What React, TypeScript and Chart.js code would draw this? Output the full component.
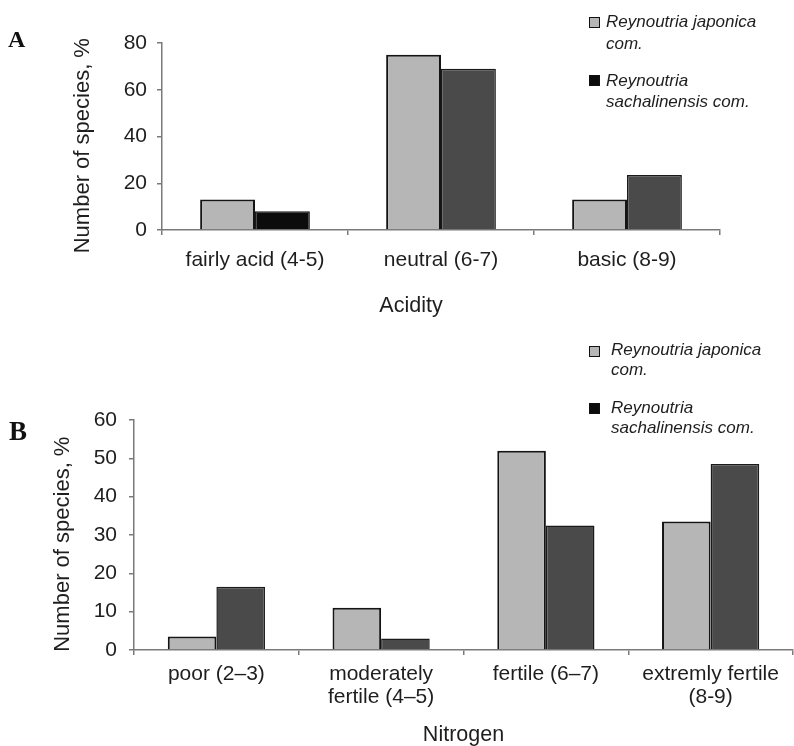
import React, { useEffect, useRef } from "react";
import { Chart, registerables } from "chart.js";

Chart.register(...registerables);

// ---------- data ----------
const seriesNames = ["Reynoutria japonica com.", "Reynoutria sachalinensis com."];

const acidityCategories = ["fairly acid (4-5)", "neutral (6-7)", "basic (8-9)"];
const acidityJaponica = [13, 75, 13];
const aciditySachalinensis = [8, 69, 23.5];
const acidityTicks = [0, 20, 40, 60, 80];

const nitrogenCategories = [
  ["poor (2–3)"],
  ["moderately", "fertile (4–5)"],
  ["fertile (6–7)"],
  ["extremly fertile", "(8-9)"],
];
const nitrogenJaponica = [3.5, 11, 52, 33.5];
const nitrogenSachalinensis = [16.5, 3, 32.5, 48.5];
const nitrogenTicks = [0, 10, 20, 30, 40, 50, 60];

const yTitle = "Number of species, %";

// ---------- styles ----------
const FONT = "'Liberation Sans', Arial, Helvetica, sans-serif";
const LIGHT = "#b6b6b6";
const DARK = "#4a4a4a";
const BLACK = "#0c0c0c";
const AXIS = "#7a7a7a";
const TEXT = "#1e1e1e";

const offsetTitlePlugin = {
  id: "offsetTitle",
  afterDraw(chart: any, _args: any, opts: any) {
    if (!opts || !opts.text) return;
    const { ctx, chartArea } = chart;
    ctx.save();
    ctx.font = `${opts.size}px ${FONT}`;
    ctx.fillStyle = TEXT;
    ctx.textAlign = "center";
    ctx.textBaseline = "middle";
    ctx.fillText(opts.text, (chartArea.left + chartArea.right) / 2 + opts.dx, opts.y);
    ctx.restore();
  },
};

function buildConfig(p: {
  labels: any[];
  japonica: number[];
  sach: number[];
  sachColors: string[];
  ticks: number[];
  padding: { left: number; right: number; top: number; bottom: number };
  yWidth: number;
  yTickPad: number;
  xHeight: number;
  xTickPad: number;
  xTitle: string | null;
  offsetTitle: any;
}) {
  const yMin = p.ticks[0];
  const yMax = p.ticks[p.ticks.length - 1];
  const step = p.ticks[1] - p.ticks[0];
  return {
    type: "bar" as const,
    data: {
      labels: p.labels,
      datasets: [
        {
          label: seriesNames[0],
          data: p.japonica,
          backgroundColor: LIGHT,
          borderColor: "#141414",
          borderWidth: 2,
          categoryPercentage: 0.59,
          barPercentage: 1,
        },
        {
          label: seriesNames[1],
          data: p.sach,
          backgroundColor: p.sachColors,
          borderColor: "#1a1a1a",
          borderWidth: 1.5,
          categoryPercentage: 0.59,
          barPercentage: 1,
        },
      ],
    },
    options: {
      responsive: false,
      animation: false,
      devicePixelRatio: 1,
      layout: { padding: p.padding },
      plugins: {
        legend: { display: false },
        tooltip: { enabled: false },
        offsetTitle: p.offsetTitle,
      },
      scales: {
        x: {
          offset: true,
          grid: {
            offset: true,
            drawOnChartArea: false,
            drawTicks: true,
            tickLength: 5,
            color: AXIS,
            lineWidth: 1.5,
          },
          border: { display: true, color: AXIS, width: 1.5 },
          ticks: {
            color: TEXT,
            font: { family: FONT, size: 21, lineHeight: 1.095 },
            padding: p.xTickPad,
            maxRotation: 0,
            minRotation: 0,
            autoSkip: false,
          },
          title: {
            display: !!p.xTitle,
            text: p.xTitle || "",
            color: TEXT,
            font: { family: FONT, size: 21.5, lineHeight: 1 },
            padding: 0,
          },
          afterFit: (s: any) => {
            s.height = p.xHeight;
          },
        },
        y: {
          min: yMin,
          max: yMax,
          grid: {
            drawOnChartArea: false,
            drawTicks: true,
            tickLength: 5,
            color: AXIS,
            lineWidth: 1.5,
          },
          border: { display: true, color: AXIS, width: 1.5 },
          ticks: {
            stepSize: step,
            color: TEXT,
            font: { family: FONT, size: 21 },
            padding: p.yTickPad,
          },
          title: {
            display: true,
            text: yTitle + "   ",
            color: TEXT,
            font: { family: FONT, size: 22, lineHeight: 1.2 },
            padding: 0,
          },
          afterFit: (s: any) => {
            s.width = p.yWidth;
          },
        },
      },
    },
    plugins: [offsetTitlePlugin],
  };
}

function BarPanel(props: { config: any; width: number; height: number; top: number }) {
  const ref = useRef<HTMLCanvasElement | null>(null);
  useEffect(() => {
    if (!ref.current) return;
    const chart = new Chart(ref.current, props.config);
    return () => chart.destroy();
  }, []);
  return (
    <canvas
      ref={ref}
      width={props.width}
      height={props.height}
      style={{ position: "absolute", left: 0, top: props.top, width: props.width, height: props.height, display: "block" }}
    />
  );
}

function Legend(props: { left: number; textLeft: number; top1: number; lh1: number; top2: number; lh2: number }) {
  const textStyle: any = {
    position: "absolute",
    left: props.textLeft,
    fontFamily: FONT,
    fontStyle: "italic",
    fontSize: 17,
    color: TEXT,
    whiteSpace: "nowrap",
  };
  const boxStyle = (top: number, bg: string): any => ({
    position: "absolute",
    left: props.left,
    top,
    width: 11,
    height: 11,
    background: bg,
    border: "1.5px solid #111",
    boxSizing: "border-box",
  });
  return (
    <>
      <div style={boxStyle(props.top1 + 6, LIGHT)} />
      <div style={{ ...textStyle, top: props.top1, lineHeight: props.lh1 + "px" }}>
        Reynoutria japonica
        <br />
        com.
      </div>
      <div style={boxStyle(props.top2 + 5, BLACK)} />
      <div style={{ ...textStyle, top: props.top2, lineHeight: props.lh2 + "px" }}>
        Reynoutria
        <br />
        sachalinensis com.
      </div>
    </>
  );
}

export default function App() {
  const configA = buildConfig({
    labels: acidityCategories,
    japonica: acidityJaponica,
    sach: aciditySachalinensis,
    sachColors: [BLACK, DARK, DARK],
    ticks: acidityTicks,
    padding: { left: 70, right: 74, top: 43, bottom: 0 },
    yWidth: 92,
    yTickPad: 10,
    xHeight: 90,
    xTickPad: 14,
    xTitle: null,
    offsetTitle: { text: "Acidity", size: 21.5, dx: -30, y: 306 },
  });
  const configB = buildConfig({
    labels: nitrogenCategories,
    japonica: nitrogenJaponica,
    sach: nitrogenSachalinensis,
    sachColors: [DARK, DARK, DARK, DARK],
    ticks: nitrogenTicks,
    padding: { left: 50, right: 1, top: 100, bottom: 0 },
    yWidth: 84,
    yTickPad: 12,
    xHeight: 96,
    xTickPad: 8,
    xTitle: "Nitrogen",
    offsetTitle: null,
  });
  const labelStyle: any = {
    position: "absolute",
    fontFamily: "'Liberation Serif', 'Times New Roman', serif",
    fontWeight: "bold",
    color: "#111",
    lineHeight: 1,
  };
  return (
    <div style={{ position: "absolute", left: 0, top: 0, width: 794, height: 746, background: "#fff", overflow: "hidden" }}>
      <BarPanel config={configA} width={794} height={320} top={0} />
      <BarPanel config={configB} width={794} height={426} top={320} />
      <div style={{ ...labelStyle, left: 8, top: 27, fontSize: 24 }}>A</div>
      <div style={{ ...labelStyle, left: 9, top: 418, fontSize: 27 }}>B</div>
      <Legend left={589} textLeft={606} top1={11} lh1={22} top2={70} lh2={21} />
      <Legend left={589} textLeft={611} top1={340} lh1={20} top2={398} lh2={20} />
    </div>
  );
}
